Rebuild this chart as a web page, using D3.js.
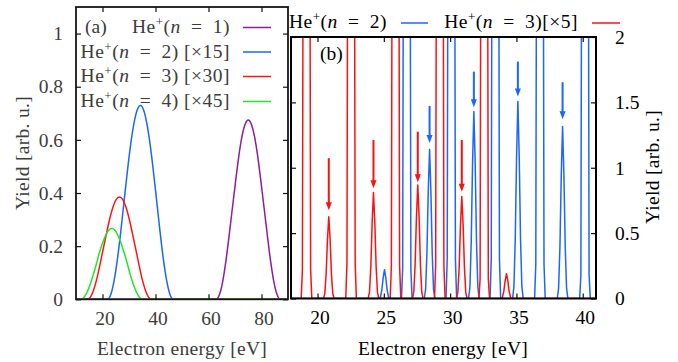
<!DOCTYPE html>
<html><head><meta charset="utf-8">
<script src="https://cdn.jsdelivr.net/npm/d3@7"></script>
<style>
html,body{margin:0;padding:0;background:#fff;}
svg{display:block;}
text{font-family:"Liberation Serif","Times New Roman",serif;font-size:19.5px;}
</style></head><body>
<svg id="chart" width="678" height="362"></svg>
<script>
// ================= DATA =================
// Panel (a): yields vs electron energy
const n1E = [10, 62.9, 64.1, 65.3, 66.5, 67.7, 68.95, 70.2, 71.4, 72.6, 73.8, 75.0, 76.2, 77.4, 78.6, 79.8, 81.05, 82.3, 83.5, 84.7, 85.9, 87.1, 90];
const n1Y = [0, 0, .017, .064, .139, .233, .338, .442, .536, .611, .658, .675, .658, .611, .536, .442, .338, .233, .139, .064, .017, 0, 0];
const n2E = [10, 21.9, 23.14, 24.38, 25.62, 26.86, 28.1, 29.34, 30.58, 31.82, 33.06, 34.3, 35.54, 36.78, 38.02, 39.26, 40.5, 41.74, 42.98, 44.22, 45.46, 46.7, 90];
const n2Y = [0, 0, .018, .070, .150, .252, .365, .477, .579, .659, .711, .729, .711, .659, .579, .477, .365, .252, .150, .070, .018, 0, 0];
const n3E = [10, 14.3, 15.5, 16.7, 17.9, 19.1, 20.35, 21.6, 22.8, 24.0, 25.2, 26.4, 27.6, 28.8, 30.0, 31.2, 32.45, 33.7, 34.9, 36.1, 37.3, 38.5, 90];
const n3Y = [0, 0, .009, .037, .079, .133, .193, .252, .306, .348, .376, .385, .376, .348, .306, .252, .193, .133, .079, .037, .009, 0, 0];
const n4E = [10, 11.8, 13.0, 14.1, 15.3, 16.5, 17.7, 18.8, 20.0, 21.2, 22.3, 23.5, 24.7, 25.8, 27.0, 28.2, 29.4, 30.5, 31.7, 32.9, 34.0, 35.2, 90];
const n4Y = [0, 0, .007, .025, .055, .092, .133, .174, .211, .241, .260, .266, .260, .241, .211, .174, .133, .092, .055, .025, .007, 0, 0];
const leftLegendN = ["1", "2", "3", "4"];
const leftLegendScale = ["", " [×15]", " [×30]", " [×45]"];
const leftColors = ["#8e1c9c", "#1a66ff", "#ff1414", "#22e622"];
const leftXTicks = [20, 40, 60, 80];
const leftYTicks = [0, 0.2, 0.4, 0.6, 0.8, 1];

// Panel (b): peak positions / heights
const bN2PeakE = [25.05, 28.45, 31.79, 35.11, 38.48];
const bN2PeakY = [0.22, 1.14, 1.43, 1.506, 1.315];
const bN2TallE = [26.73, 30.09, 33.41, 36.77, 40.17];   // peaks running off scale
const bN2TallFoot = [0.23, 0.30, 0.30, 0.26, 0.18];
const bN3PeakE = [20.85, 24.22, 27.56, 30.88, 34.25];
const bN3PeakY = [0.626, 0.81, 0.868, 0.78, 0.19];
const bN3TallE = [19.17, 22.53, 25.88, 29.22, 32.57];
const bN3TallFoot = [0.22, 0.27, 0.25, 0.25, 0.15];
// arrows
const arrowN3E = [20.85, 24.22, 27.56, 30.88];
const arrowN3Top = [1.073, 1.213, 1.276, 1.213];
const arrowN3Tip = [0.675, 0.843, 0.89, 0.817];
const arrowN2E = [28.45, 31.79, 35.11, 38.48];
const arrowN2Top = [1.473, 1.735, 1.812, 1.654];
const arrowN2Tip = [1.19, 1.463, 1.545, 1.37];
// line profile of a single peak (offset in eV, fraction of height)
const profileDE = [-0.4, -0.3, -0.2, -0.1, 0, 0.1, 0.2, 0.3, 0.4];
const profileF  = [0, 0.06, 0.3, 0.72, 1, 0.72, 0.3, 0.06, 0];
const offScale = 4;
const rightXTicks = [20, 25, 30, 35, 40];
const rightYTicks = [0, 0.5, 1, 1.5, 2];
const rightYTickLabels = ["0", "0.5", "1", "1.5", "2"];
const colN2 = "#1a66ff", colN3 = "#ff1010";

// ================= DRAW =================
const svg = d3.select("#chart");
const defs = svg.append("defs");

// ---------- panel (a) ----------
const xL = d3.scaleLinear().domain([10, 90]).range([76, 288]);
const yL = d3.scaleLinear().domain([0, 1.1]).range([299.3, 7]);
const greyTxt = "#3c3c3c";

defs.append("clipPath").attr("id", "clipL").append("rect")
  .attr("x", 76).attr("y", 7).attr("width", 212).attr("height", 293.3);

const gL = svg.append("g");
const lineL = d3.line().x(d => xL(d[0])).y(d => yL(d[1])).curve(d3.curveMonotoneX);
const leftSeries = [[n1E, n1Y], [n2E, n2Y], [n3E, n3Y], [n4E, n4Y]];
const gLc = gL.append("g").attr("clip-path", "url(#clipL)");
leftSeries.forEach((s, i) => {
  gLc.append("path").datum(s[0].map((e, j) => [e, s[1][j]]))
    .attr("d", lineL).attr("fill", "none").attr("stroke", leftColors[i]).attr("stroke-width", 1.5);
});

function styleAxis(g, col) {
  g.select(".domain").remove();
  g.selectAll(".tick line").attr("stroke", "#111").attr("stroke-width", 1.2);
  g.selectAll(".tick text").attr("fill", col).attr("font-family", '"Liberation Serif",serif').attr("font-size", "19.5px");
}
const axLB = gL.append("g").attr("transform", "translate(0,299.3)")
  .call(d3.axisBottom(xL).tickValues(leftXTicks).tickSize(-5).tickPadding(11.5).tickFormat(d3.format("~g")));
styleAxis(axLB, greyTxt); axLB.selectAll(".tick text").attr("dx", 2);
const axLT = gL.append("g").attr("transform", "translate(0,7)")
  .call(d3.axisTop(xL).tickValues(leftXTicks).tickSize(-5).tickFormat(""));
styleAxis(axLT, greyTxt);
const axLL = gL.append("g").attr("transform", "translate(76,0)")
  .call(d3.axisLeft(yL).tickValues(leftYTicks).tickSize(-5).tickPadding(13).tickFormat(d3.format("~g")));
styleAxis(axLL, greyTxt);
const axLR = gL.append("g").attr("transform", "translate(288,0)")
  .call(d3.axisRight(yL).tickValues(leftYTicks).tickSize(-5).tickFormat(""));
styleAxis(axLR, greyTxt);

gL.append("rect").attr("x", 76).attr("y", 7).attr("width", 212).attr("height", 292.3)
  .attr("fill", "none").attr("stroke", "#161616").attr("stroke-width", 1.8);

gL.append("text").attr("x", 182).attr("y", 355).attr("text-anchor", "middle")
  .attr("fill", greyTxt).attr("letter-spacing", "0.3px").text("Electron energy [eV]");
gL.append("text").attr("transform", "translate(29,153) rotate(-90)").attr("text-anchor", "middle")
  .attr("fill", greyTxt).attr("letter-spacing", "0.3px").text("Yield [arb. u.]");

function heLabel(g, x, y, n, extra, anchor, col) {
  const t = g.append("text").attr("x", x).attr("y", y).attr("text-anchor", anchor)
    .attr("fill", col).attr("letter-spacing", "0.5px");
  t.append("tspan").text("He");
  t.append("tspan").attr("dy", -7).attr("font-size", "13px").text("+");
  t.append("tspan").attr("dy", 7).text("(");
  t.append("tspan").attr("font-style", "italic").text("n");
  t.append("tspan").text("\u2002=\u2002" + n + ")" + extra);
  return t;
}
gL.append("text").attr("x", 85).attr("y", 33).attr("fill", greyTxt).text("(a)");
const legY = [33, 57.5, 82, 107];
leftLegendN.forEach((n, i) => {
  heLabel(gL, 230, legY[i], n, leftLegendScale[i], "end", greyTxt);
  gL.append("line").attr("x1", 243).attr("x2", 271).attr("y1", legY[i] - 5.5).attr("y2", legY[i] - 5.5)
    .attr("stroke", leftColors[i]).attr("stroke-width", 1.5);
});

// ---------- panel (b) ----------
const xR = d3.scaleLinear().domain([18, 41]).range([291, 596]);
const yR = d3.scaleLinear().domain([0, 2]).range([298.5, 37]);
defs.append("clipPath").attr("id", "clipR").append("rect")
  .attr("x", 291).attr("y", 37).attr("width", 305).attr("height", 261.5);

function buildSpectrum(pe, py, te, tf) {
  const items = [];
  pe.forEach((c, i) => items.push({c, pts: profileDE.map((d, j) => [c + d, py[i] * profileF[j]])}));
  te.forEach((c, i) => items.push({c, pts: [[c - 0.40, 0], [c - 0.31, tf[i]], [c - 0.23, offScale],
    [c + 0.23, offScale], [c + 0.31, tf[i]], [c + 0.40, 0]]}));
  items.sort((a, b) => a.c - b.c);
  const pts = [[18, 0]];
  items.forEach(it => pts.push(...it.pts));
  pts.push([41, 0]);
  return pts;
}
const gR = svg.append("g");
const lineR = d3.line().x(d => xR(d[0])).y(d => yR(d[1]));
const gRc = gR.append("g").attr("clip-path", "url(#clipR)");
gRc.append("path").datum(buildSpectrum(bN2PeakE, bN2PeakY, bN2TallE, bN2TallFoot))
  .attr("d", lineR).attr("fill", "none").attr("stroke", colN2).attr("stroke-width", 1.5).attr("stroke-linejoin", "round");
gRc.append("path").datum(buildSpectrum(bN3PeakE, bN3PeakY, bN3TallE, bN3TallFoot))
  .attr("d", lineR).attr("fill", "none").attr("stroke", colN3).attr("stroke-width", 1.5).attr("stroke-linejoin", "round");

function arrows(es, tops, tips, col) {
  es.forEach((e, i) => {
    const x = xR(e), y0 = yR(tops[i]), y1 = yR(tips[i]);
    gR.append("line").attr("x1", x).attr("x2", x).attr("y1", y0).attr("y2", y1 - 6)
      .attr("stroke", col).attr("stroke-width", 2);
    gR.append("path").attr("d", `M${x - 3},${y1 - 8}L${x + 3},${y1 - 8}L${x},${y1}Z`).attr("fill", col);
  });
}
arrows(arrowN3E, arrowN3Top, arrowN3Tip, colN3);
arrows(arrowN2E, arrowN2Top, arrowN2Tip, colN2);

const axRB = gR.append("g").attr("transform", "translate(0,298.5)")
  .call(d3.axisBottom(xR).tickValues(rightXTicks).tickSize(-5).tickPadding(11.5).tickFormat(d3.format("~g")));
styleAxis(axRB, "#000"); axRB.selectAll(".tick text").attr("dx", 2);
const axRT = gR.append("g").attr("transform", "translate(0,37)")
  .call(d3.axisTop(xR).tickValues(rightXTicks).tickSize(-5).tickFormat(""));
styleAxis(axRT, "#000");
const axRR = gR.append("g").attr("transform", "translate(596,0)")
  .call(d3.axisRight(yR).tickValues(rightYTicks).tickSize(-5).tickPadding(19).tickFormat((d, i) => rightYTickLabels[i]));
styleAxis(axRR, "#000");
const axRL = gR.append("g").attr("transform", "translate(291,0)")
  .call(d3.axisLeft(yR).tickValues(rightYTicks).tickSize(-5).tickFormat(""));
styleAxis(axRL, "#000");

gR.append("rect").attr("x", 291).attr("y", 37).attr("width", 305).attr("height", 261.5)
  .attr("fill", "none").attr("stroke", "#000").attr("stroke-width", 2);

gR.append("text").attr("x", 443).attr("y", 355).attr("text-anchor", "middle")
  .attr("fill", "#000").attr("letter-spacing", "0.3px").text("Electron energy [eV]");
gR.append("text").attr("transform", "translate(659,167) rotate(-90)").attr("text-anchor", "middle")
  .attr("fill", "#000").attr("letter-spacing", "0.3px").text("Yield [arb. u.]");
gR.append("text").attr("x", 320).attr("y", 60).attr("fill", "#000").text("(b)");

heLabel(gR, 387, 28, "2", "", "end", "#000");
gR.append("line").attr("x1", 401).attr("x2", 428).attr("y1", 23).attr("y2", 23).attr("stroke", colN2).attr("stroke-width", 1.5);
heLabel(gR, 578, 28, "3", "[×5]", "end", "#000");
gR.append("line").attr("x1", 592).attr("x2", 620).attr("y1", 23).attr("y2", 23).attr("stroke", colN3).attr("stroke-width", 1.5);
</script>
</body></html>
